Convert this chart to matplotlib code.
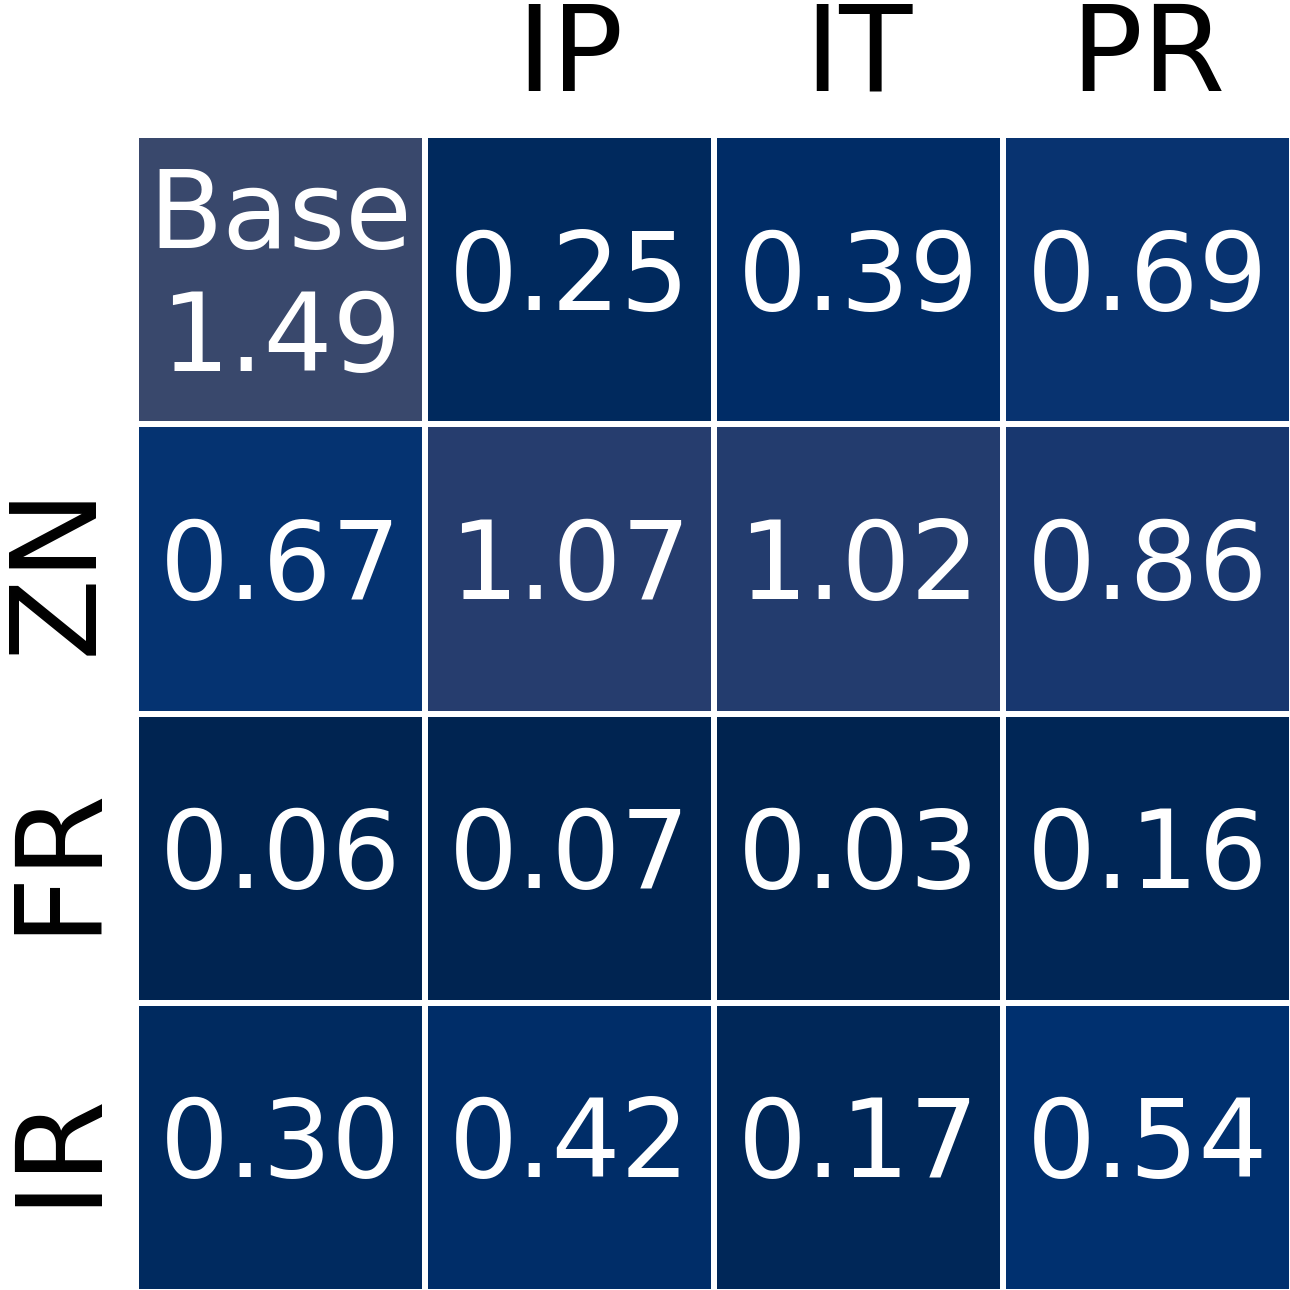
import numpy as np
import matplotlib
matplotlib.use("Agg")
import matplotlib.pyplot as plt

col_labels = ["", "IP", "IT", "PR"]
row_labels = ["", "ZN", "FR", "IR"]

row_base = [1.49, 0.25, 0.39, 0.69]
row_zn = [0.67, 1.07, 1.02, 0.86]
row_fr = [0.06, 0.07, 0.03, 0.16]
row_ir = [0.30, 0.42, 0.17, 0.54]

values = np.array([row_base, row_zn, row_fr, row_ir])

fig = plt.figure(figsize=(12.9, 12.9), dpi=100)
ax = fig.add_axes([136 / 1290, -2 / 1290, 1 - 134 / 1290, 1 - 133 / 1290])

ax.pcolormesh(values, cmap="cividis", vmin=0, vmax=7,
              edgecolors="white", linewidth=3)
ax.set_xlim(0, 4)
ax.set_ylim(4, 0)

for i in range(values.shape[0]):
    for j in range(values.shape[1]):
        txt = f"{values[i, j]:.2f}"
        if i == 0 and j == 0:
            txt = "Base\n" + txt
        ax.text(j + 0.5, i + 0.5, txt, ha="center", va="center",
                color="white", fontsize=78)

ax.set_xticks(np.arange(4) + 0.5)
ax.set_xticklabels(col_labels, fontsize=86)
ax.set_yticks(np.arange(4) + 0.5)
ax.set_yticklabels(row_labels, fontsize=86, rotation=90, va="center")
ax.xaxis.tick_top()
ax.tick_params(axis="x", length=0, pad=14)
ax.tick_params(axis="y", length=0, pad=14)
for s in ax.spines.values():
    s.set_visible(False)

fig.savefig("out.png", dpi=100)
